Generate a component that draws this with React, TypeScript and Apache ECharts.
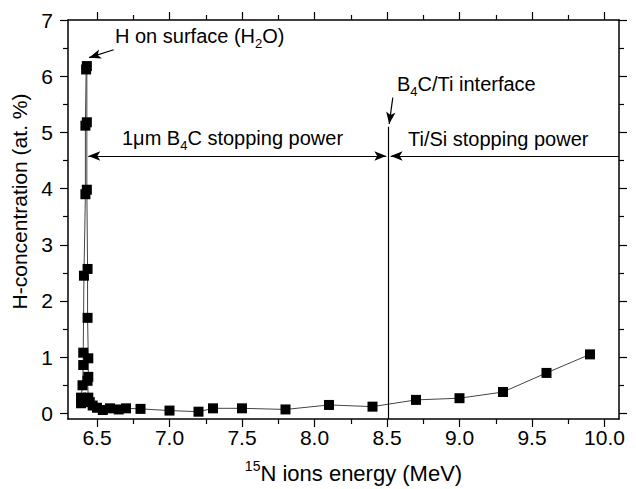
import React, { useEffect, useRef } from "react";
import * as echarts from "echarts";

// Data
const energyMeV = [
  6.39, 6.39, 6.40, 6.405, 6.405, 6.41, 6.42, 6.42, 6.425, 6.43, 6.43, 6.43, 6.435, 6.435,
  6.44, 6.44, 6.435, 6.44, 6.45, 6.47, 6.50, 6.54, 6.59, 6.65, 6.70, 6.80,
  7.0, 7.2, 7.3, 7.5, 7.8, 8.1, 8.4, 8.7, 9.0, 9.3, 9.6, 9.9,
];
const hConcentration = [
  0.18, 0.28, 0.50, 0.86, 1.08, 2.45, 3.90, 5.12, 6.12, 6.18, 5.18, 3.98, 2.57, 1.70,
  0.98, 0.65, 0.58, 0.28, 0.20, 0.14, 0.10, 0.06, 0.09, 0.07, 0.09, 0.08,
  0.05, 0.03, 0.09, 0.09, 0.07, 0.15, 0.12, 0.24, 0.27, 0.38, 0.72, 1.05,
];

const xMajorTicks = [6.5, 7.0, 7.5, 8.0, 8.5, 9.0, 9.5, 10.0];
const xMinorTicks = [6.75, 7.25, 7.75, 8.25, 8.75, 9.25, 9.75];
const yMajorTicks = [0, 1, 2, 3, 4, 5, 6, 7];
const yMinorTicks = [0.5, 1.5, 2.5, 3.5, 4.5, 5.5, 6.5];

const interfaceEnergy = 8.51;
const stoppingArrowLevel = 4.58;

const FONT = "Liberation Sans, Arial, sans-serif";

export default function App() {
  const ref = useRef<HTMLDivElement>(null);
  useEffect(() => {
    if (!ref.current) return;
    const chart = echarts.init(ref.current, undefined, { renderer: "svg" });
    const xMin = 6.3, xMax = 10.1, yMin = -0.1, yMax = 7;
    const axisLineStyle = { color: "#000", width: 1.5 };
    const mkX = (pos: "top" | "bottom", ticks: number[], len: number, showLine: boolean, labels: boolean, name?: boolean): any => ({
      type: "value",
      position: pos,
      min: xMin,
      max: xMax,
      gridIndex: 0,
      splitLine: { show: false },
      axisLine: { show: showLine, onZero: false, lineStyle: axisLineStyle },
      axisTick: { show: true, customValues: ticks, length: len, lineStyle: { color: "#000", width: 1.2 } },
      axisLabel: labels
        ? { show: true, customValues: ticks, formatter: (v: number) => v.toFixed(1), color: "#000", fontSize: 21, fontFamily: FONT, margin: 8 }
        : { show: false },
      ...(name
        ? {
            name: "{sup|15}{n|N ions energy (MeV)}",
            nameLocation: "middle",
            nameGap: 40,
            nameTextStyle: {
              padding: [0, 0, 0, 20],
              rich: {
                sup: { fontSize: 14, fontFamily: FONT, color: "#000", verticalAlign: "top", lineHeight: 14 },
                n: { fontSize: 22, fontFamily: FONT, color: "#000", lineHeight: 28 },
              },
            },
          }
        : {}),
    });
    const mkY = (pos: "left" | "right", ticks: number[], len: number, showLine: boolean, labels: boolean, name?: boolean): any => ({
      type: "value",
      position: pos,
      min: yMin,
      max: yMax,
      gridIndex: 0,
      splitLine: { show: false },
      axisLine: { show: showLine, onZero: false, lineStyle: axisLineStyle },
      axisTick: { show: true, customValues: ticks, length: len, lineStyle: { color: "#000", width: 1.2 } },
      axisLabel: labels
        ? { show: true, customValues: ticks, formatter: (v: number) => String(Math.round(v)), color: "#000", fontSize: 21, fontFamily: FONT, margin: 15 }
        : { show: false },
      ...(name
        ? {
            name: "H-concentration (at. %)",
            nameLocation: "middle",
            nameGap: 25,
            nameTextStyle: { fontSize: 21, fontFamily: FONT, color: "#000", padding: [0, 0, 0, 36] },
          }
        : {}),
    });

    const data = energyMeV.map((e, i) => [e, hConcentration[i]]);
    const arrowStyle = { color: "#000", width: 1.2, type: "solid" as const };

    const textStyleBase = { fontFamily: FONT, fill: "#000" };
    const richAnn = {
      t: { fontSize: 20, fontFamily: FONT, color: "#000", lineHeight: 28 },
      sub: { fontSize: 13, fontFamily: FONT, color: "#000", verticalAlign: "bottom", lineHeight: 13 },
    };

    chart.setOption({
      animation: false,
      backgroundColor: "#fff",
      grid: { left: 68, right: 17, top: 20, bottom: 65, containLabel: false },
      xAxis: [
        mkX("bottom", xMajorTicks, 8, true, true, true),
        mkX("bottom", xMinorTicks, 5, false, false),
        mkX("top", xMajorTicks, 8, true, false),
        mkX("top", xMinorTicks, 5, false, false),
      ],
      yAxis: [
        mkY("left", yMajorTicks, 8, true, true, true),
        mkY("left", yMinorTicks, 5, false, false),
        mkY("right", yMajorTicks, 8, true, false),
        mkY("right", yMinorTicks, 5, false, false),
      ],
      series: [
        {
          type: "line",
          xAxisIndex: 0,
          yAxisIndex: 0,
          data,
          symbol: "rect",
          symbolSize: 10,
          showSymbol: true,
          itemStyle: { color: "#000" },
          lineStyle: { color: "#444", width: 1 },
          z: 3,
          markLine: {
            silent: true,
            animation: false,
            label: { show: false },
            emphasis: { disabled: true },
            lineStyle: arrowStyle,
            data: [
              [
                { coord: [interfaceEnergy, yMin], symbol: "none" },
                { coord: [interfaceEnergy, 5.1], symbol: "none" },
              ],
              [
                { coord: [6.44, stoppingArrowLevel], symbol: "arrow", symbolSize: [7, 12] },
                { coord: [interfaceEnergy - 0.015, stoppingArrowLevel], symbol: "arrow", symbolSize: [7, 12] },
              ],
              [
                { coord: [interfaceEnergy + 0.015, stoppingArrowLevel], symbol: "arrow", symbolSize: [7, 12] },
                { coord: [xMax, stoppingArrowLevel], symbol: "none" },
              ],
              [
                { coord: [8.54, 5.62], symbol: "none" },
                { coord: [interfaceEnergy + 0.005, 5.15], symbol: "arrow", symbolSize: [7, 12] },
              ],
              [
                { coord: [6.615, 6.47], symbol: "none" },
                { coord: [6.445, 6.33], symbol: "arrow", symbolSize: [7, 12] },
              ],
            ],
          },
        },
      ],
      graphic: [
        {
          type: "text",
          left: 115,
          top: 26,
          style: { ...textStyleBase, text: "{t|H on surface (H}{sub|2}{t|O)}", rich: richAnn },
        },
        {
          type: "text",
          left: 122,
          top: 128,
          style: { ...textStyleBase, text: "{t|1μm B}{sub|4}{t|C stopping power}", rich: richAnn },
        },
        {
          type: "text",
          left: 397,
          top: 74,
          style: { ...textStyleBase, text: "{t|B}{sub|4}{t|C/Ti interface}", rich: richAnn },
        },
        {
          type: "text",
          left: 408,
          top: 129,
          style: { ...textStyleBase, text: "{t|Ti/Si stopping power}", rich: richAnn },
        },
      ],
    });
    return () => chart.dispose();
  }, []);
  return <div ref={ref} style={{ width: 636, height: 489, position: "absolute", left: 0, top: 0 }} />;
}
